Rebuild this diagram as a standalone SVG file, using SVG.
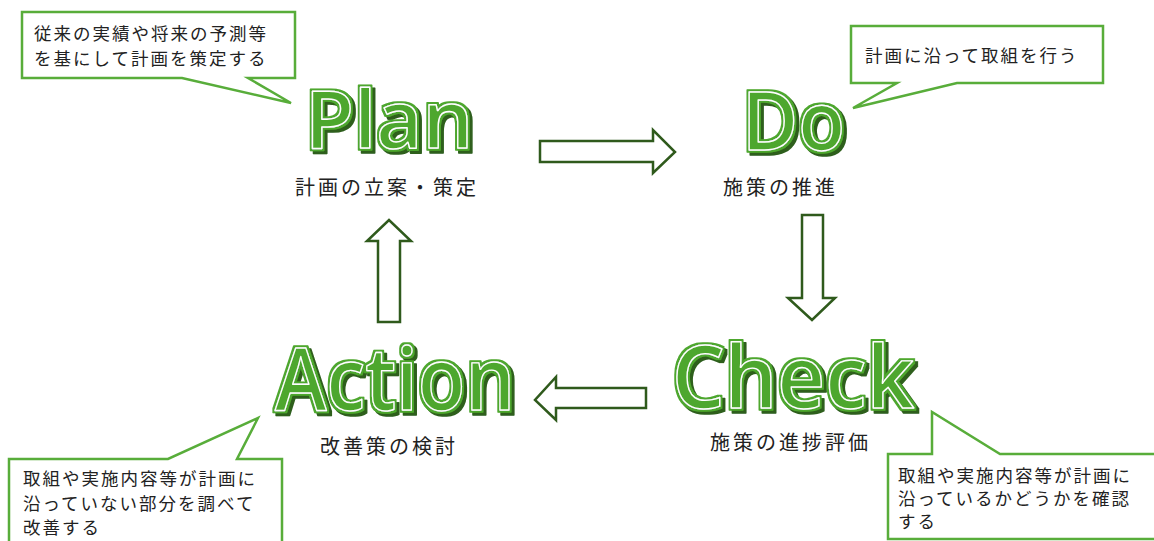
<svg xmlns="http://www.w3.org/2000/svg" width="1154" height="541" viewBox="0 0 1154 541">
<defs>
  <filter id="wordfx" x="-10%" y="-20%" width="125%" height="145%">
    <feMorphology in="SourceAlpha" operator="dilate" radius="1.6" result="dil"/>
    <feFlood flood-color="#4ea72e" result="g"/>
    <feComposite in="g" in2="dil" operator="in" result="outline"/>
    <feOffset in="dil" dx="2.5" dy="2.5" result="off"/>
    <feFlood flood-color="#2d5e1e" result="d"/>
    <feComposite in="d" in2="off" operator="in" result="shadow"/>
    <feMerge>
      <feMergeNode in="shadow"/>
      <feMergeNode in="outline"/>
      <feMergeNode in="SourceGraphic"/>
    </feMerge>
  </filter>
</defs>
<style>
.bg{fill:#ffffff}
.callout{fill:#ffffff;stroke:#58ad3a;stroke-width:2.5;stroke-linejoin:miter}
.note{font-family:"Noto Sans CJK JP","Liberation Sans",sans-serif;font-size:17.5px;letter-spacing:2px;fill:#222222}
.label{font-family:"Noto Sans CJK JP","Liberation Sans",sans-serif;font-size:20px;letter-spacing:3px;fill:#222222}
.big{font-family:"Open Sans","DejaVu Sans",sans-serif;font-weight:600;fill:#4ea72e;stroke:#ffffff;stroke-width:1.4;stroke-linejoin:round;filter:url(#wordfx)}
.arrow{fill:#ffffff;stroke:#2f5a1c;stroke-width:2.5;stroke-linejoin:miter}
</style>
<rect class="bg" x="0" y="0" width="1154" height="541"/>

<g id="connectors">
  <path class="arrow" d="M540,141 H653 V130 L675,152 L653,173 V162 H540 Z"/>
  <path class="arrow" d="M802,215 H823 V298 H835 L812,320 L788,298 H802 Z"/>
  <path class="arrow" d="M378,322 V241 H367 L389,220 L411,241 H400 V322 Z"/>
  <path class="arrow" d="M646,388 H556 V377 L535,400 L556,420 V408 H646 Z"/>
</g>

<g id="plan">
  <text class="big" x="305" y="148" font-size="80" textLength="168" lengthAdjust="spacingAndGlyphs">Plan</text>
  <text class="label" x="295" y="195">計画の立案・策定</text>
</g>

<g id="do">
  <text class="big" x="742" y="150" font-size="81" textLength="103" lengthAdjust="spacingAndGlyphs">Do</text>
  <text class="label" x="723" y="195">施策の推進</text>
</g>

<g id="check">
  <text class="big" x="672" y="408" font-size="86" textLength="242" lengthAdjust="spacingAndGlyphs">Check</text>
  <text class="label" x="710" y="450">施策の進捗評価</text>
</g>

<g id="action">
  <text class="big" x="275" y="410" font-size="86" textLength="240" lengthAdjust="spacingAndGlyphs">Action</text>
  <text class="label" x="320" y="454">改善策の検討</text>
</g>

<g id="note-plan">
  <path class="callout" d="M22,12 H295 V78 H248 L291,103 L182,78 H22 Z"/>
  <text class="note" x="34" y="40">従来の実績や将来の予測等</text>
  <text class="note" x="34" y="65">を基にして計画を策定する</text>
</g>

<g id="note-do">
  <path class="callout" d="M851,26 H1103 V83 H957 L853,108 L897,83 H851 Z"/>
  <text class="note" x="865" y="62">計画に沿って取組を行う</text>
</g>

<g id="note-action">
  <path class="callout" d="M9,459 H168 L258,418 L237,459 H282 V560 H9 Z"/>
  <text class="note" x="23" y="485">取組や実施内容等が計画に</text>
  <text class="note" x="23" y="510">沿っていない部分を調べて</text>
  <text class="note" x="23" y="534">改善する</text>
</g>

<g id="note-check">
  <path class="callout" d="M888,454 H932 V412 L1000,454 H1160 V539 H888 Z"/>
  <text class="note" x="898" y="482">取組や実施内容等が計画に</text>
  <text class="note" x="898" y="505">沿っているかどうかを確認</text>
  <text class="note" x="898" y="528">する</text>
</g>
</svg>
